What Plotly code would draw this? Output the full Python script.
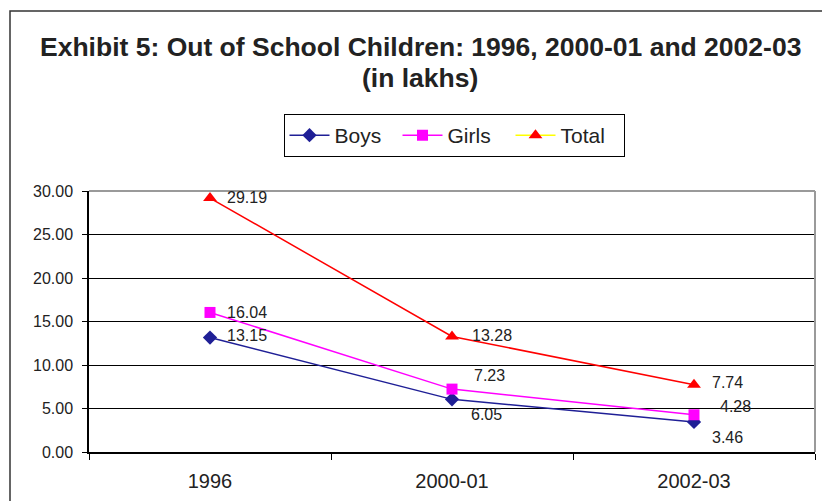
import plotly.graph_objects as go

categories = ["1996", "2000-01", "2002-03"]
boys = [13.15, 6.05, 3.46]
girls = [16.04, 7.23, 4.28]
total = [29.19, 13.28, 7.74]
y_ticks = [0, 5, 10, 15, 20, 25, 30]
title_lines = ["Exhibit 5: Out of School Children: 1996, 2000-01 and 2002-03", "(in lakhs)"]

# label offsets (pixels) per series / point
boys_off = [(15, 2), (17, -15), (16, -16)]
girls_off = [(15, 0), (20, 14), (24, 8)]
total_off = [(15, 1), (18, 1), (16, 2)]

BOYS_C = "#1f1f96"
GIRLS_C = "#ff00ff"
TOTAL_C = "#ff0000"
FONT = "Liberation Sans, Arial, sans-serif"

fig = go.Figure()
fig.add_trace(go.Scatter(x=categories, y=boys, name="Boys", mode="lines+markers",
                         line=dict(color=BOYS_C, width=1.5),
                         marker=dict(symbol="diamond", size=11, color=BOYS_C)))
fig.add_trace(go.Scatter(x=categories, y=girls, name="Girls", mode="lines+markers",
                         line=dict(color=GIRLS_C, width=1.5),
                         marker=dict(symbol="square", size=11, color=GIRLS_C)))
fig.add_trace(go.Scatter(x=categories, y=total, name="Total", mode="lines+markers",
                         line=dict(color=TOTAL_C, width=1.5),
                         marker=dict(symbol="triangle-up", size=12, color=TOTAL_C),
                         showlegend=False))
# legend entry for Total (yellow line, red triangle as in the original)
fig.add_trace(go.Scatter(x=[None], y=[None], name="Total", mode="lines+markers",
                         line=dict(color="#ffff00", width=1.5),
                         marker=dict(symbol="triangle-up", size=12, color=TOTAL_C)))

W, H = 822, 501
L, R, T, B = 89, 7, 191, 49
pw, ph = W - L - R, H - T - B

def px(x):
    return (x - L) / pw

def py(y):
    return (H - B - y) / ph

annotations = []
for vals, offs in ((boys, boys_off), (girls, girls_off), (total, total_off)):
    for i, v in enumerate(vals):
        annotations.append(dict(x=i, y=v, xref="x", yref="y", text=f"{v:.2f}",
                                showarrow=False, xanchor="left", yanchor="middle",
                                xshift=offs[i][0], yshift=offs[i][1],
                                font=dict(family=FONT, size=16, color="#222222")))
for line_text, yc in zip(title_lines, (47, 78)):
    annotations.append(dict(x=px(420), y=py(yc), xref="paper", yref="paper",
                            text=f"<b>{line_text}</b>", showarrow=False,
                            xanchor="center", yanchor="middle",
                            font=dict(family=FONT, size=26.5, color="#222222")))

shapes = [
    # outer chart border
    dict(type="rect", xref="paper", yref="paper", x0=px(10), x1=px(860), y0=py(520), y1=py(11),
         line=dict(color="#333333", width=1.5), fillcolor="rgba(0,0,0,0)", layer="above"),
    # plot-area top & right border
    dict(type="line", xref="paper", yref="paper", x0=0, x1=1, y0=1, y1=1,
         line=dict(color="#9a9a9a", width=2)),
    dict(type="line", xref="paper", yref="paper", x0=1, x1=1, y0=0, y1=1,
         line=dict(color="#9a9a9a", width=2)),
]

fig.update_layout(
    width=W, height=H,
    margin=dict(l=L, r=R, t=T, b=B),
    paper_bgcolor="white", plot_bgcolor="white",
    font=dict(family=FONT, color="#222222"),
    legend=dict(orientation="h", x=px(454), xanchor="center", y=py(114), yanchor="top",
                bordercolor="#000000", borderwidth=1, bgcolor="white",
                font=dict(family=FONT, size=21, color="#222222"),
                itemwidth=40, tracegroupgap=0,
                entrywidth=58, entrywidthmode="pixels"),
    showlegend=True,
    annotations=annotations,
    shapes=shapes,
)
fig.update_xaxes(type="category", range=[-0.5, 2.5], tickson="boundaries",
                 showline=True, linecolor="#000000", linewidth=1.5,
                 ticks="outside", ticklen=6, tickcolor="#000000",
                 showgrid=False, zeroline=False,
                 tickfont=dict(family=FONT, size=20, color="#222222"),
                 ticklabelstandoff=10)
fig.update_yaxes(range=[0, 30], tickvals=y_ticks, tickformat=".2f",
                 showline=True, linecolor="#000000", linewidth=1.5,
                 ticks="outside", ticklen=5, tickcolor="#000000",
                 showgrid=True, gridcolor="#000000", gridwidth=1, zeroline=False,
                 tickfont=dict(family=FONT, size=16, color="#222222"),
                 ticklabelstandoff=6)

fig.write_html("out.html")
